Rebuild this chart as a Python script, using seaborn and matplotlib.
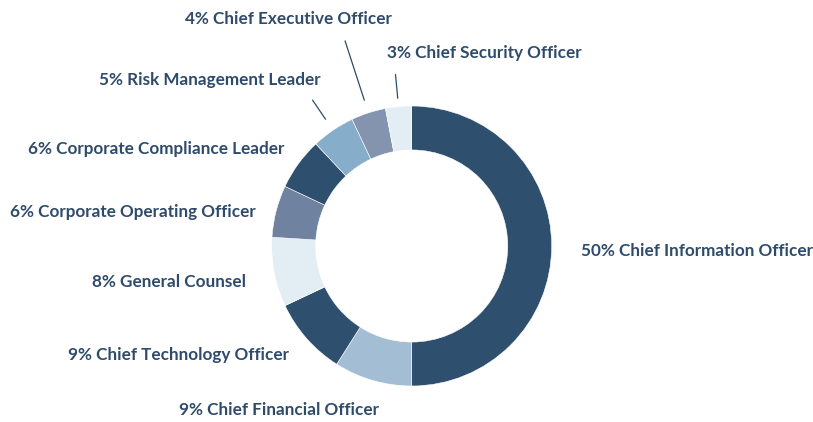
import numpy as np
import matplotlib
matplotlib.use('Agg')
import matplotlib.pyplot as plt
import seaborn as sns

# data
roles = ['Chief Information Officer', 'Chief Financial Officer', 'Chief Technology Officer',
         'General Counsel', 'Corporate Operating Officer', 'Corporate Compliance Leader',
         'Risk Management Leader', 'Chief Executive Officer', 'Chief Security Officer']
shares = [50, 9, 9, 8, 6, 6, 5, 4, 3]
colors = ['#2f4f6f', '#a3bed4', '#2f4f6f', '#e2edf4', '#6f82a0',
          '#2f4f6f', '#86adc9', '#8494ae', '#e2edf4']

sns.set_theme(style='white')
plt.rcParams['font.family'] = ['Lato', 'DejaVu Sans']
text_color = '#2f4b6b'

W, H = 813, 422
cx, cy, R = 411.7, 246, 140  # pixel centre and radius

fig = plt.figure(figsize=(W / 100, H / 100), dpi=100)
ax = fig.add_axes([0, 0, 1, 1])

wedges, _ = ax.pie(shares, colors=colors, startangle=90, counterclock=False,
                   radius=1.0, wedgeprops=dict(width=0.314, linewidth=0.4, edgecolor='white'))

ax.set_xlim(-cx / R, (W - cx) / R)
ax.set_ylim((cy - H) / R, cy / R)
ax.set_aspect('equal')
ax.axis('off')

# label layout in pixels: (x, baseline y, ha)
layout = [(580.5, 256.5, 'left'), (279, 415, 'center'), (289, 360, 'right'),
          (246, 287, 'right'), (256, 216.5, 'right'), (284, 154, 'right'),
          (321, 85, 'right'), (288, 24, 'center'), (387, 58, 'left')]

def px(x, y):
    return (x - cx) / R, (cy - y) / R

for role, val, (lx, ly, ha) in zip(roles, shares, layout):
    x, y = px(lx, ly)
    ax.text(x, y, f'{val}% {role}', ha=ha, va='baseline', fontsize=12.3,
            fontweight='bold', color=text_color)

# leader lines for the small top slices
leaders = {'Risk Management Leader': (1.095, 1.26),
           'Chief Executive Officer': (1.095, 1.54),
           'Chief Security Officer': (1.06, 1.23)}
for w, role in zip(wedges, roles):
    if role in leaders:
        r0, r1 = leaders[role]
        ang = np.deg2rad((w.theta1 + w.theta2) / 2)
        ax.plot([r0 * np.cos(ang), r1 * np.cos(ang)], [r0 * np.sin(ang), r1 * np.sin(ang)],
                color=text_color, lw=0.9)

fig.savefig('out.png', dpi=100)
